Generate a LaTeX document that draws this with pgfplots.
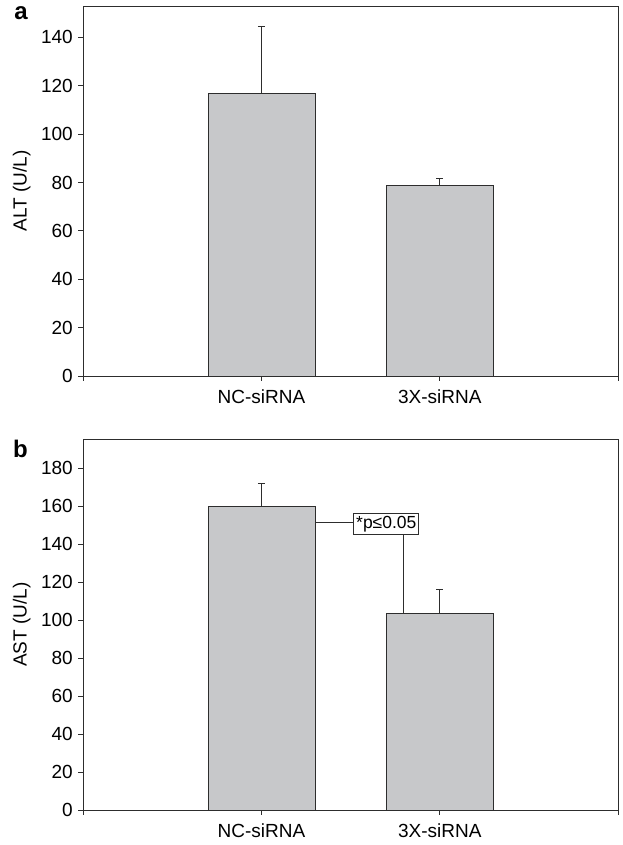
\documentclass[border=0pt]{standalone}
\usepackage{pgfplots}
\pgfplotsset{compat=1.18}
\usepackage{fontspec}
\setmainfont{Liberation Sans}
\definecolor{barfill}{RGB}{199,200,202}
\definecolor{linec}{RGB}{45,45,45}
\pgfplotsset{
  mystyle/.style={
    scale only axis, width=534.7pt, anchor=south west,
    xmin=-1, xmax=2,
    xtick={-1,0,1,2}, xticklabels={,NC-siRNA,3X-siRNA,},
    tick align=outside, xtick pos=bottom, ytick pos=left,
    major tick length=5pt,
    axis line style={linec, line width=0.9pt},
    every tick/.style={linec, line width=0.9pt},
    tick label style={font=\fontsize{19}{22}\selectfont},
    /pgf/number format/assume math mode=true,
    yticklabel style={xshift=-2pt},
    xticklabel style={yshift=-5pt},
    ylabel style={at={(axis description cs:-0.115,0.5)}, anchor=center, font=\fontsize{19}{22}\selectfont},
    ybar, bar width=0.6,
  },
  barst/.style={draw=linec, fill=barfill, line width=0.9pt,
    error bars/.cd, y dir=plus, y explicit,
    error mark options={rotate=90, mark size=3.6pt, line width=0.9pt, linec},
    error bar style={line width=0.9pt, linec}},
}
\begin{document}
\begin{tikzpicture}[x=1pt,y=1pt]
\useasboundingbox (0,0) rectangle (622,845);
\begin{axis}[mystyle, at={(83.3pt,469pt)}, height=370pt,
  ymin=0, ymax=153, ytick={0,20,...,140}, ylabel={ALT (U/L)}]
\addplot[barst] coordinates {(0,116.7) +- (0,27.8) (1,78.8) +- (0,2.7)};
\end{axis}
\begin{axis}[mystyle, at={(83.3pt,35pt)}, height=370.7pt,
  ymin=0, ymax=195.3, ytick={0,20,...,180}, ylabel={AST (U/L)}]
\addplot[barst] coordinates {(0,159.8) +- (0,12.0) (1,103.6) +- (0,12.8)};
\draw[linec, line width=0.9pt] (axis cs:0.3,151.4) -- (axis cs:0.52,151.4);
\draw[linec, line width=0.9pt] (axis cs:0.794,145) -- (axis cs:0.794,103.6);
\node[draw=linec, line width=0.9pt, fill=white, inner sep=1pt, minimum height=21pt, minimum width=65pt,
  font=\fontsize{17.5}{19}\selectfont] at (axis cs:0.70,150.6) {*p≤0.05};
\end{axis}
\node[anchor=base, font=\fontsize{24}{26}\selectfont\bfseries] at (21,825) {a};
\node[anchor=base, font=\fontsize{24}{26}\selectfont\bfseries] at (20.5,387) {b};
\end{tikzpicture}
\end{document}
